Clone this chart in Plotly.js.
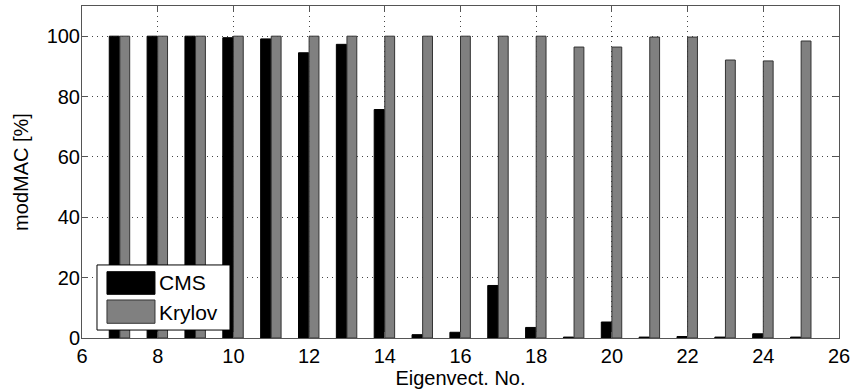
<!DOCTYPE html>
<html>
<head>
<meta charset="utf-8">
<script src="https://cdn.plot.ly/plotly-3.0.1.min.js"></script>
<style>html,body{margin:0;padding:0;background:#fff;}#chart{width:855px;height:390px;}</style>
</head>
<body>
<div id="chart"></div>
<script>
const eigenvectors = [7, 8, 9, 10, 11, 12, 13, 14, 15, 16, 17, 18, 19, 20, 21, 22, 23, 24, 25];
const cmsValues = [100, 100, 100, 99.5, 99.1, 94.5, 97.3, 75.7, 1.1, 1.9, 17.4, 3.5, 0.3, 5.3, 0.3, 0.5, 0.3, 1.4, 0.3];
const krylovValues = [100, 100, 100, 100, 100, 100, 100, 100, 100, 100, 100, 100, 96.4, 96.4, 99.7, 99.7, 92.1, 91.8, 98.4];
const xTicks = [6, 8, 10, 12, 14, 16, 18, 20, 22, 24, 26];
const yTicks = [0, 20, 40, 60, 80, 100];
const seriesNames = ['CMS', 'Krylov'];
const seriesColors = ['#000000', '#808080'];

const font = 'Liberation Sans, Arial, sans-serif';

const traces = [
  {
    type: 'bar', name: seriesNames[0], x: eigenvectors, y: cmsValues,
    offset: -0.28, width: 0.27, showlegend: false,
    marker: {color: seriesColors[0], line: {color: '#000000', width: 1}}
  },
  {
    type: 'bar', name: seriesNames[1], x: eigenvectors, y: krylovValues,
    offset: 0.0, width: 0.26, showlegend: false,
    marker: {color: seriesColors[1], line: {color: '#333333', width: 1}}
  }
];

const axisCommon = {
  showline: true, linecolor: '#555', linewidth: 1, mirror: 'ticks',
  ticks: 'inside', ticklen: 6, tickcolor: '#555',
  showgrid: true, gridcolor: '#444', griddash: '1px,4px', gridwidth: 1,
  zeroline: false, layer: 'above traces',
  tickfont: {family: font, size: 20, color: '#000'}
};

// Legend box drawn as shapes (large swatches like the original)
const legendShapes = [
  {type: 'rect', xref: 'paper', yref: 'paper', x0: 0.0198, x1: 0.1955, y0: 0.024, y1: 0.22,
   fillcolor: '#ffffff', line: {color: '#000', width: 1}, layer: 'above'},
  {type: 'rect', xref: 'paper', yref: 'paper', x0: 0.033, x1: 0.0964, y0: 0.1316, y1: 0.1997,
   fillcolor: seriesColors[0], line: {color: '#000', width: 1}, layer: 'above'},
  {type: 'rect', xref: 'paper', yref: 'paper', x0: 0.033, x1: 0.0964, y0: 0.0443, y1: 0.1145,
   fillcolor: seriesColors[1], line: {color: '#333', width: 1}, layer: 'above'}
];
const legendLabels = [
  {xref: 'paper', yref: 'paper', x: 0.099, y: 0.1657, xanchor: 'left', yanchor: 'middle',
   text: seriesNames[0], showarrow: false, font: {family: font, size: 21, color: '#000'}},
  {xref: 'paper', yref: 'paper', x: 0.099, y: 0.078, xanchor: 'left', yanchor: 'middle',
   text: seriesNames[1], showarrow: false, font: {family: font, size: 21, color: '#000'}}
];

const layout = {
  width: 855, height: 390,
  margin: {l: 82, r: 16, t: 6, b: 52},
  paper_bgcolor: '#fff', plot_bgcolor: '#fff',
  showlegend: false,
  shapes: legendShapes,
  annotations: legendLabels,
  xaxis: Object.assign({}, axisCommon, {
    range: [6, 26], tickvals: xTicks, ticktext: xTicks.map(String),
    ticklabelstandoff: 0,
    title: {text: 'Eigenvect. No.', font: {family: font, size: 20, color: '#000'}, standoff: 0}
  }),
  yaxis: Object.assign({}, axisCommon, {
    range: [0, 110], tickvals: yTicks, ticktext: yTicks.map(String),
    ticklabelstandoff: -3,
    title: {text: 'modMAC [%]', font: {family: font, size: 20, color: '#000'}, standoff: 12}
  })
};

Plotly.newPlot('chart', traces, layout, {displayModeBar: false, staticPlot: true});
</script>
</body>
</html>
